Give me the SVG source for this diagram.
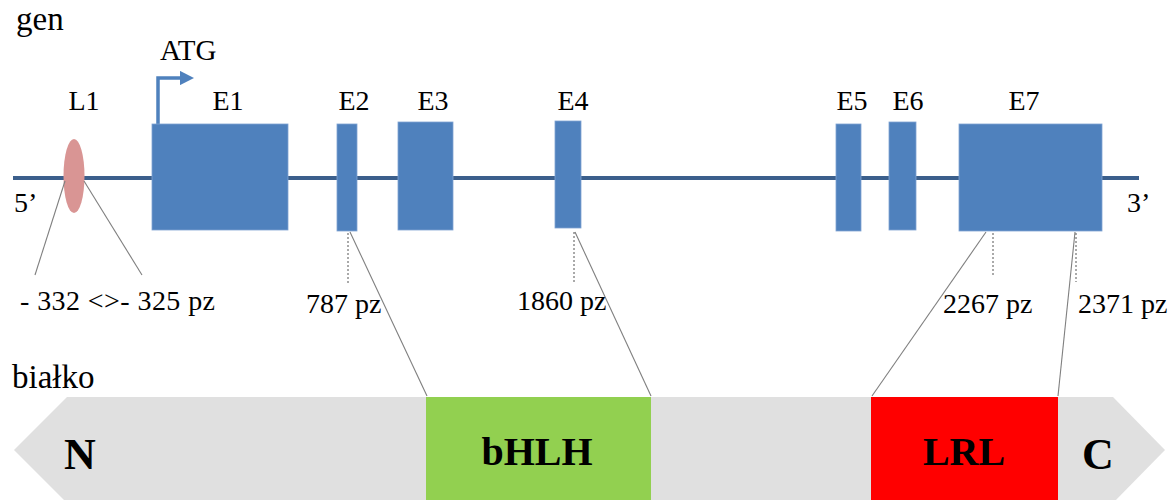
<svg xmlns="http://www.w3.org/2000/svg" width="1173" height="500" viewBox="0 0 1173 500" font-family="'Liberation Serif', 'Times New Roman', serif">
<style>
text{font-family:'Liberation Serif','Times New Roman',serif;fill:#000}
.t{font-size:28px}
.h{font-size:33px}
.b{font-weight:bold}
.exon{fill:#4f81bd;stroke:#7fa3d3;stroke-width:0.8}
.conn{stroke:#7f7f7f;stroke-width:1.1;fill:none}
.dot{stroke:#555;stroke-width:1;stroke-dasharray:2,2;fill:none}
</style>
<defs>
<marker id="arr" viewBox="0 0 10 10" refX="1" refY="5" markerWidth="4.2" markerHeight="4.2" orient="auto" markerUnits="strokeWidth">
<path d="M0,0 L10,5 L0,10 z" fill="#4f81bd"/>
</marker>
</defs>
<rect width="1173" height="500" fill="#fff"/>
<text class="h" x="16" y="30">gen</text>
<text class="h" x="12" y="388">białko</text>
<g id="gene-line"><line x1="13" y1="178" x2="1139" y2="178" stroke="#3b5f8c" stroke-width="4"/></g>
<g id="L1">
<ellipse cx="74" cy="176" rx="10.5" ry="37" fill="#d99594"/>
<text class="t" x="84" y="110" text-anchor="middle">L1</text>
</g>
<g id="ATG">
<path d="M158,124 V78 H181" stroke="#4f81bd" stroke-width="3.5" fill="none" marker-end="url(#arr)"/>
<text class="t" x="160" y="60" font-size="29" style="font-size:29px">ATG</text>
</g>
<g id="E1"><rect class="exon" x="152" y="124" width="136" height="106"/><text class="t" x="228" y="110" text-anchor="middle">E1</text></g>
<g id="E2"><rect class="exon" x="337" y="124" width="20" height="107"/><text class="t" x="354" y="110" text-anchor="middle">E2</text></g>
<g id="E3"><rect class="exon" x="398" y="122" width="55" height="108"/><text class="t" x="433" y="110" text-anchor="middle">E3</text></g>
<g id="E4"><rect class="exon" x="555" y="121" width="26" height="107"/><text class="t" x="573" y="110" text-anchor="middle">E4</text></g>
<g id="E5"><rect class="exon" x="836" y="124" width="25" height="107"/><text class="t" x="852" y="110" text-anchor="middle">E5</text></g>
<g id="E6"><rect class="exon" x="889" y="122" width="27" height="108"/><text class="t" x="908" y="110" text-anchor="middle">E6</text></g>
<g id="E7"><rect class="exon" x="959" y="124" width="143" height="107"/><text class="t" x="1024" y="110" text-anchor="middle">E7</text></g>
<text class="t" x="14" y="212">5’</text>
<text class="t" x="1127" y="212">3’</text>
<g id="protein">
<polygon points="14,450 67,397 1113,397 1165,450 1113,503 67,503" fill="#e0e0e0"/>
<rect x="426" y="397" width="225" height="106" fill="#92d050"/>
<rect x="871" y="397" width="187" height="106" fill="#ff0000"/>
<text class="b" x="80" y="469" font-size="44" text-anchor="middle">N</text>
<text class="b" x="1098" y="469" font-size="44" text-anchor="middle">C</text>
<text class="b" x="537" y="465" font-size="40" text-anchor="middle">bHLH</text>
<text class="b" x="964" y="465" font-size="40" text-anchor="middle">LRL</text>
</g>
<g id="connectors">
<line class="conn" x1="65" y1="181" x2="35" y2="275"/>
<line class="conn" x1="84" y1="181" x2="142" y2="275"/>
<line class="conn" x1="350" y1="232" x2="427" y2="396"/>
<line class="conn" x1="575" y1="232" x2="651" y2="396"/>
<line class="conn" x1="986" y1="232" x2="872" y2="396"/>
<line class="conn" x1="1075" y1="232" x2="1058" y2="396"/>
<line class="dot" x1="348" y1="233" x2="348" y2="283"/>
<line class="dot" x1="574" y1="232" x2="574" y2="283"/>
<line class="dot" x1="993" y1="233" x2="993" y2="276"/>
<line class="dot" x1="1076" y1="233" x2="1076" y2="282"/>
</g>
<text class="t" x="20" y="310" textLength="195" lengthAdjust="spacing">- 332 &lt;&gt;- 325 pz</text>
<text class="t" x="306" y="313">787 pz</text>
<text class="t" x="517" y="310">1860 pz</text>
<text class="t" x="943" y="313">2267 pz</text>
<text class="t" x="1078" y="313">2371 pz</text>
</svg>
